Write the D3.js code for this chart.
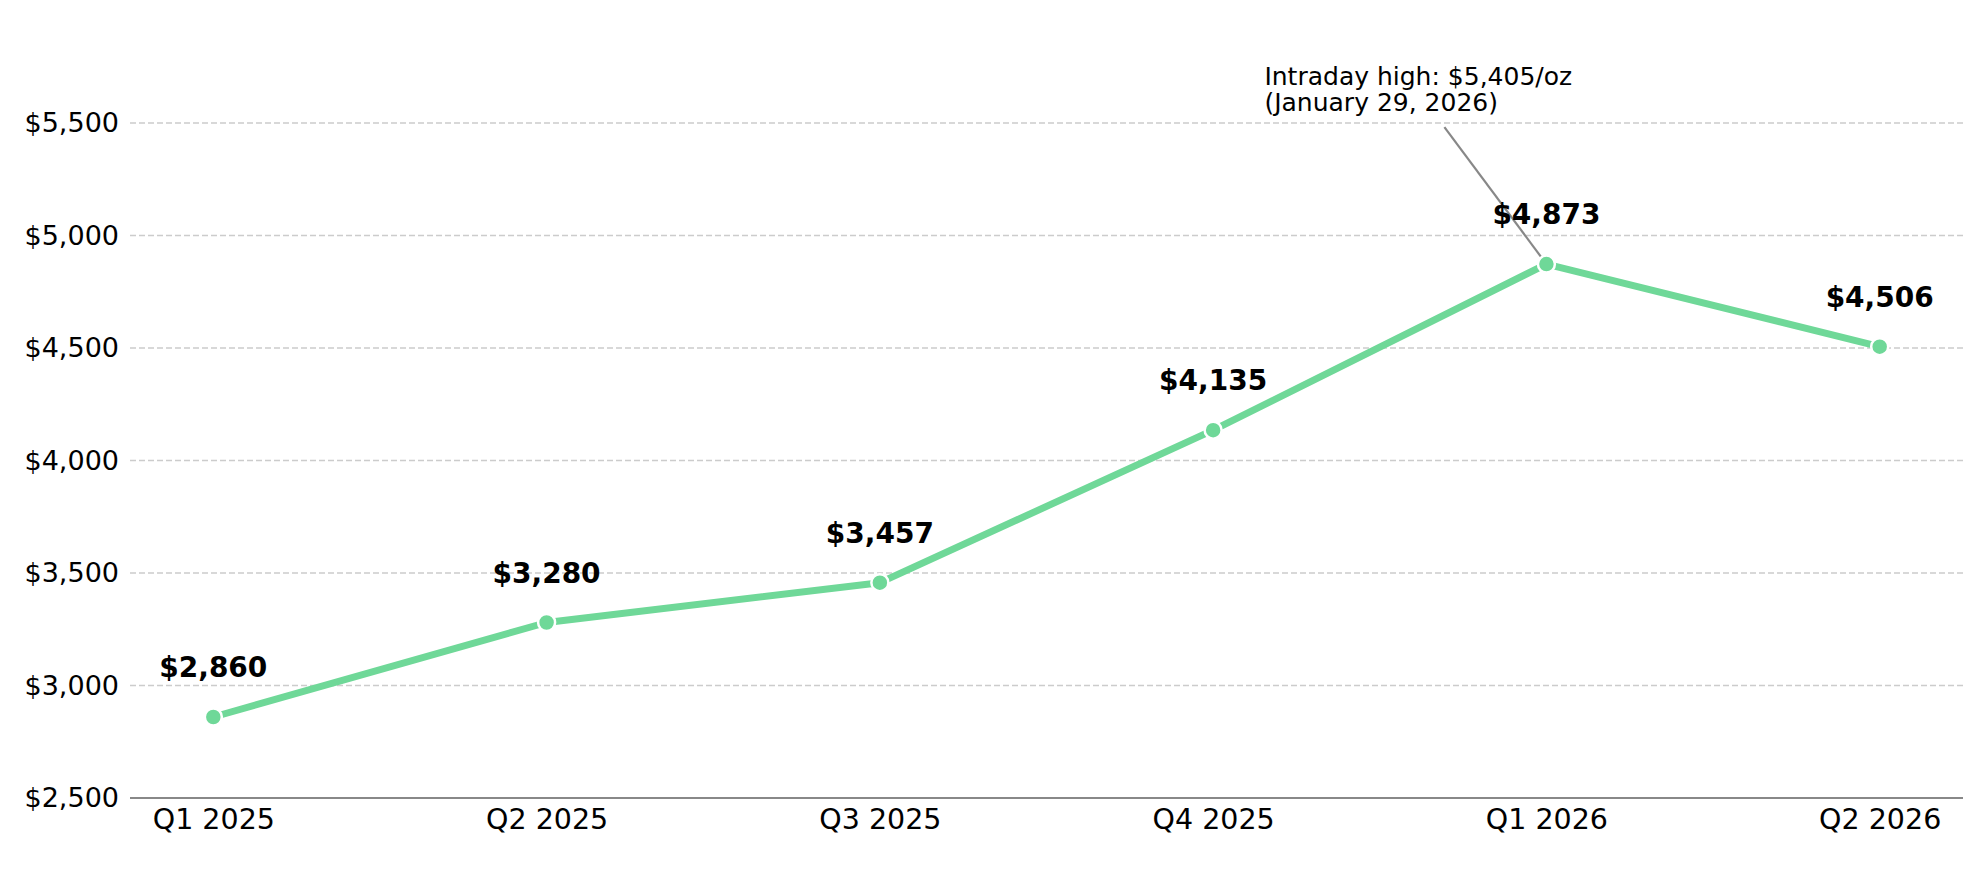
<!DOCTYPE html>
<html>
<head>
<meta charset="utf-8">
<script src="https://cdn.jsdelivr.net/npm/d3@7"></script>
<style>
  html, body { margin: 0; padding: 0; background: #fff; }
  svg { display: block; font-family: "DejaVu Sans", sans-serif; }
</style>
</head>
<body>
<div id="chart"></div>
<script>
// Gold price by quarter (USD/oz)
const quarters = ["Q1 2025", "Q2 2025", "Q3 2025", "Q4 2025", "Q1 2026", "Q2 2026"];
const prices = [2860, 3280, 3457, 4135, 4873, 4506];
const yTicks = [2500, 3000, 3500, 4000, 4500, 5000, 5500];
const annotationLines = ["Intraday high: $5,405/oz", "(January 29, 2026)"];
const annotationIndex = 4;

const width = 1977, height = 873;
const margin = { top: 123, right: 14, bottom: 75, left: 130 };

const svg = d3.select("#chart")
    .append("svg")
    .attr("width", width)
    .attr("height", height);

const x = d3.scalePoint()
    .domain(quarters)
    .range([margin.left, width - margin.right])
    .padding(0.25);

const y = d3.scaleLinear()
    .domain([2500, 5500])
    .range([height - margin.bottom, margin.top]);

const fmt = d => "$" + d3.format(",")(d);

// Grid lines
svg.append("g")
    .selectAll("line")
    .data(yTicks.slice(1))
    .join("line")
    .attr("x1", margin.left)
    .attr("x2", width - margin.right)
    .attr("y1", d => y(d))
    .attr("y2", d => y(d))
    .attr("stroke", "#cccccc")
    .attr("stroke-width", 1.5)
    .attr("stroke-dasharray", "6,3");

// Y axis labels
const yAxis = svg.append("g")
    .attr("transform", `translate(${margin.left},0)`)
    .call(d3.axisLeft(y).tickValues(yTicks).tickFormat(fmt).tickSize(0).tickPadding(11));
yAxis.select(".domain").remove();
yAxis.selectAll("text")
    .attr("fill", "#000")
    .style("font-family", "DejaVu Sans")
    .style("font-size", "27px");

// X axis
const xAxis = svg.append("g")
    .attr("transform", `translate(0,${height - margin.bottom})`)
    .call(d3.axisBottom(x).tickSize(0).tickPadding(11));
xAxis.select(".domain")
    .attr("d", `M${margin.left},0H${width - margin.right}`)
    .attr("stroke", "#888888")
    .attr("stroke-width", 2);
xAxis.selectAll("text")
    .attr("fill", "#000")
    .style("font-family", "DejaVu Sans")
    .style("font-size", "28.5px");

const data = quarters.map((q, i) => ({ q, v: prices[i] }));

// Line
svg.append("path")
    .datum(data)
    .attr("fill", "none")
    .attr("stroke", "#6fd898")
    .attr("stroke-width", 7)
    .attr("stroke-linejoin", "round")
    .attr("d", d3.line().x(d => x(d.q)).y(d => y(d.v)));

// Annotation arrow
const ax = x(quarters[annotationIndex]), ay = y(prices[annotationIndex]);
svg.append("line")
    .attr("x1", ax - 102)
    .attr("y1", ay - 137)
    .attr("x2", ax - 3)
    .attr("y2", ay - 4)
    .attr("stroke", "#888888")
    .attr("stroke-width", 2.2);

// Markers
svg.append("g")
    .selectAll("circle")
    .data(data)
    .join("circle")
    .attr("cx", d => x(d.q))
    .attr("cy", d => y(d.v))
    .attr("r", 8.5)
    .attr("fill", "#6fd898")
    .attr("stroke", "#fff")
    .attr("stroke-width", 2.5);

// Value labels
svg.append("g")
    .selectAll("text")
    .data(data)
    .join("text")
    .attr("x", d => x(d.q))
    .attr("y", d => y(d.v) - 40)
    .attr("text-anchor", "middle")
    .style("font-size", "28px")
    .style("font-weight", "bold")
    .text(d => fmt(d.v));

// Annotation text
svg.append("text")
    .attr("x", ax - 282)
    .attr("y", 85)
    .style("font-size", "25px")
    .selectAll("tspan")
    .data(annotationLines)
    .join("tspan")
    .attr("x", ax - 282)
    .attr("dy", (d, i) => i === 0 ? 0 : 26)
    .text(d => d);
</script>
</body>
</html>
